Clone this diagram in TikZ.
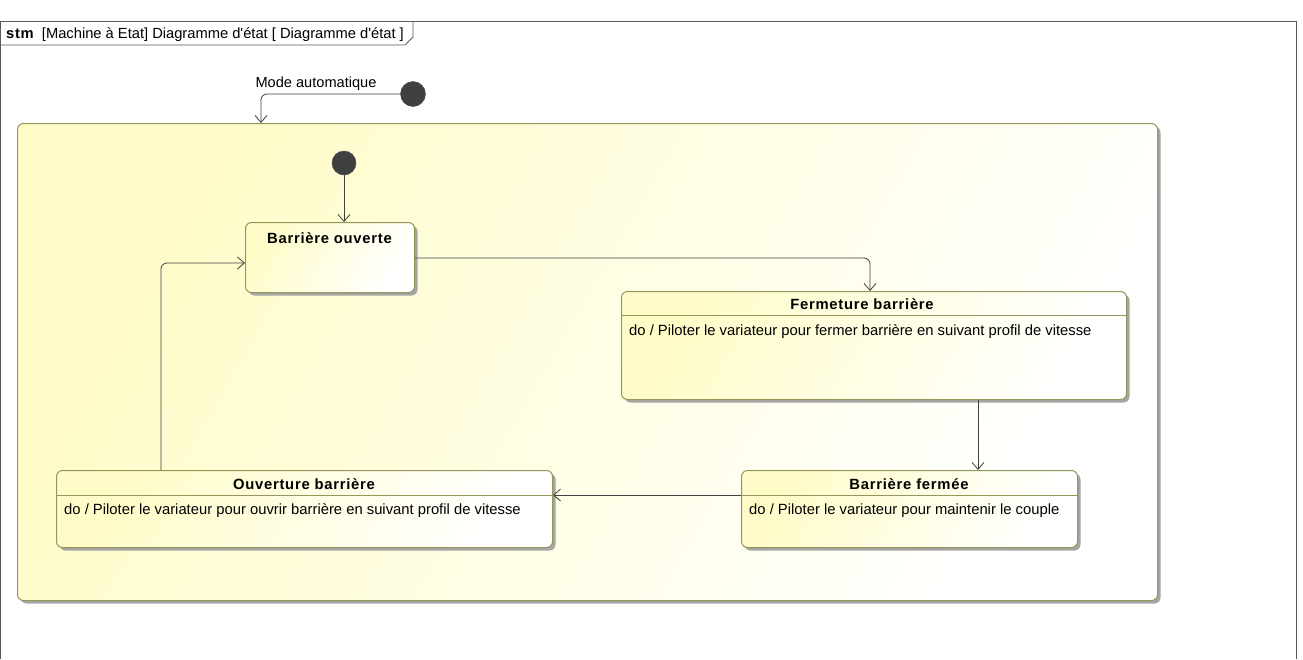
\documentclass[tikz,border=0pt]{standalone}
\usepackage{fontspec}
\setmainfont{Liberation Sans}
\usetikzlibrary{arrows.meta,shadows,calc}
\definecolor{stborder}{RGB}{150,150,90}
\definecolor{styellow}{RGB}{255,252,200}
\definecolor{pseudo}{RGB}{64,64,64}
\definecolor{framec}{RGB}{90,90,90}
\tikzset{
  statebox/.style={draw=stborder, line width=1pt, rounded corners=6pt,
    left color=styellow, right color=white, shading angle=60,
    drop shadow={shadow xshift=3pt, shadow yshift=-3pt, fill=black!35, opacity=1},
    anchor=north west, inner sep=0pt},
  initst/.style={circle, fill=pseudo, draw=pseudo, minimum size=25pt, inner sep=0pt},
  trans/.style={draw=black!75, line width=0.8pt, rounded corners=6pt,
    -{Straight Barb[length=7pt,width=12pt]}},
  title/.style={font=\fontsize{14.8}{17}\selectfont\bfseries\addfontfeatures{LetterSpace=5}, anchor=base, inner sep=0pt},
  body/.style={font=\fontsize{14.8}{17}\selectfont, anchor=base west, inner sep=0pt},
  sepline/.style={draw=stborder, line width=1pt}
}
\begin{document}
\begin{tikzpicture}[x=1pt,y=-1pt]
\useasboundingbox (0,0) rectangle (1303,659);
\fill[white] (0,0) rectangle (1303,659);
% frame
\draw[framec, line width=0.8pt] (0.5,659) -- (0.5,21) -- (1296,21) -- (1296,659);
\draw[framec, line width=0.8pt] (0.5,45) -- (405,45) -- (413,37) -- (413,21);
\node[anchor=base west, font=\fontsize{14.7}{17}\selectfont, inner sep=0pt] (frametitle) at (6,38.5)
  {{\bfseries\addfontfeatures{LetterSpace=5}stm}\ \ [Machine à Etat] Diagramme d\textquotesingle état [ Diagramme d\textquotesingle état ]};
% composite state
\node[statebox, minimum width=1140pt, minimum height=477pt] (comp) at (17,123) {};
% outer initial
\node[initst] (init1) at (413,94) {};
\coordinate (c1) at (261,123);
\draw[trans] (init1.west) -- (261,94) -- (comp.north -| c1);
\node[anchor=base, font=\fontsize{14.6}{17}\selectfont, inner sep=0pt] (lab) at (316,87) {Mode automatique};
% states
\node[statebox, minimum width=169pt, minimum height=70pt] (bo) at (245,222) {};
\node[title] (botitle) at (329.5,243) {Barrière ouverte};

\node[statebox, minimum width=505pt, minimum height=108pt] (fb) at (621,291) {};
\draw[sepline] (621,315) -- (1126,315);
\node[title] (fbtitle) at (862,309) {Fermeture barrière};
\node[body] (fbbody) at (629,335) {do / Piloter le variateur pour fermer barrière en suivant profil de vitesse};

\node[statebox, minimum width=336pt, minimum height=77pt] (bf) at (741,470) {};
\draw[sepline] (741,495) -- (1077,495);
\node[title] (bftitle) at (909,489) {Barrière fermée};
\node[body] (bfbody) at (749,514) {do / Piloter le variateur pour maintenir le couple};

\node[statebox, minimum width=496pt, minimum height=77pt] (ob) at (56,470) {};
\draw[sepline] (56,495) -- (552,495);
\node[title] (obtitle) at (304,489) {Ouverture barrière};
\node[body] (obbody) at (64,514) {do / Piloter le variateur pour ouvrir barrière en suivant profil de vitesse};

% inner initial
\node[initst, minimum size=24pt] (init2) at (344,163) {};
\draw[trans] (init2.south) -- (bo.north -| init2);
% transitions
\draw[trans] (bo.east |- 0,258) -- (870,258) -- (fb.north -| 870,0);
\draw[trans] (fb.south -| 978,0) -- (bf.north -| 978,0);
\draw[trans] (bf.west |- 0,495) -- (ob.east |- 0,495);
\draw[trans] (ob.north -| 161,0) -- (161,263) -- (bo.west |- 0,263);
\end{tikzpicture}
\end{document}
